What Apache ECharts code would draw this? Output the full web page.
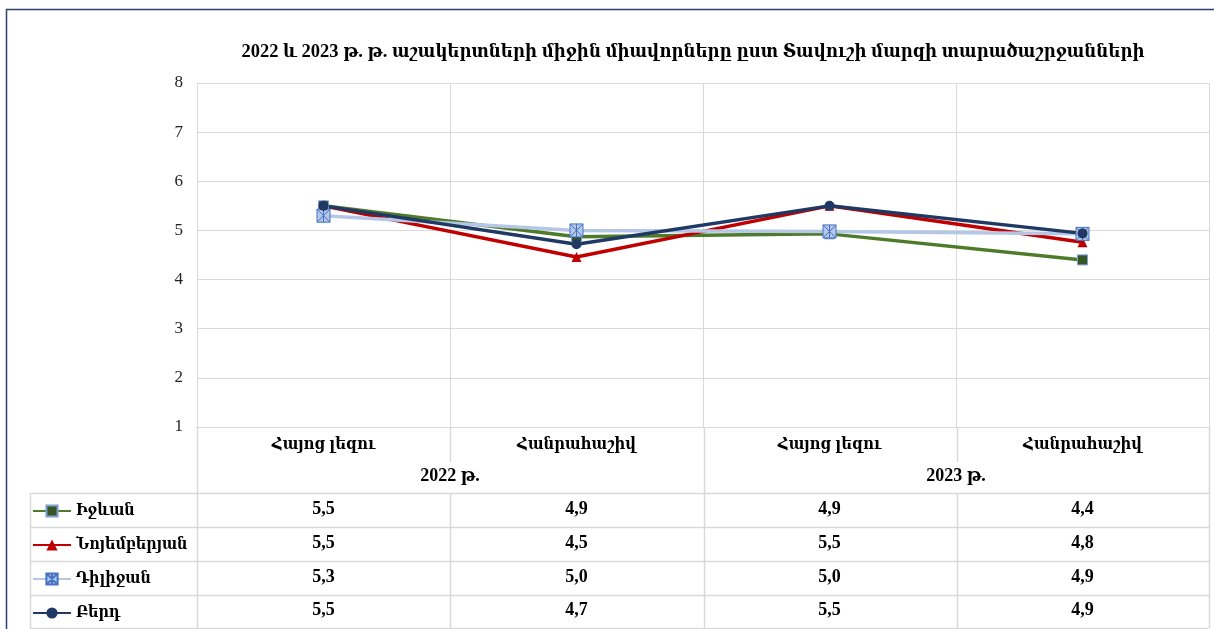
<!DOCTYPE html>
<html>
<head>
<meta charset="utf-8">
<script src="https://cdn.jsdelivr.net/npm/echarts@6/dist/echarts.min.js"></script>
<style>
html,body{margin:0;padding:0;background:#fff;}
#main{width:1214px;height:629px;}
</style>
</head>
<body>
<div id="main"></div>
<script>
// տվյալներ
var subjects = ['Հայոց լեզու', 'Հանրահաշիվ', 'Հայոց լեզու', 'Հանրահաշիվ'];
var years = ['2022 թ.', '2023 թ.'];
var names = ['Իջևան', 'Նոյեմբերյան', 'Դիլիջան', 'Բերդ'];
var ijevan = [5.5, 4.87, 4.93, 4.4];
var noyemberyan = [5.5, 4.46, 5.5, 4.76];
var dilijan = [5.3, 5.0, 4.98, 4.93];
var berd = [5.5, 4.72, 5.5, 4.94];
var yTicks = [1, 2, 3, 4, 5, 6, 7, 8];

(function(){
    var myChart = echarts.init(document.getElementById('main'));
    var font = "'Liberation Serif', 'DejaVu Serif Condensed', 'DejaVu Serif', serif";
    var gridC = '#d9d9d9';
    var L = 197, R = 1209, T = 83, B = 427;
    var rowsY = [493, 527, 561, 595, 628];
    var allData = [ijevan, noyemberyan, dilijan, berd];

    function fmt(v){ return v.toFixed(1).replace('.', ','); }

    // աղյուսակի տողերի առանցքներ
    var xAxes = [{
        type: 'category', data: subjects, gridIndex: 0, position: 'bottom',
        axisLine: {lineStyle: {color: gridC}},
        axisTick: {show: false},
        splitLine: {show: true, lineStyle: {color: gridC}},
        axisLabel: {margin: 9, fontFamily: font, fontSize: 16.5, fontWeight: 'bold', color: '#000'}
    }, {
        type: 'category', data: years, gridIndex: 0, position: 'bottom',
        axisLine: {show: false}, axisTick: {show: false}, splitLine: {show: false},
        axisLabel: {margin: 40, fontFamily: font, fontSize: 18, fontWeight: 'bold', color: '#000'}
    }];
    var margins = [73, 107, 141, 174];
    allData.forEach(function(d, i){
        xAxes.push({
            type: 'category', data: d.map(fmt), gridIndex: 0, position: 'bottom',
            axisLine: {show: false}, axisTick: {show: false}, splitLine: {show: false},
            axisLabel: {margin: margins[i], fontFamily: font, fontSize: 18, fontWeight: 'bold', color: '#000'}
        });
    });

    // գծեր
    var lines = [];
    rowsY.forEach(function(y){
        lines.push({type: 'line', shape: {x1: 30, y1: y + 0.5, x2: R, y2: y + 0.5}, style: {stroke: gridC, lineWidth: 1.5}, silent: true});
    });
    [[30, 493, 628], [L, B, 628], [450, B, 462], [450, 493, 628], [704, B, 628],
     [957, B, 462], [957, 493, 628], [R, B, 628]].forEach(function(v){
        lines.push({type: 'line', shape: {x1: v[0] + 0.5, y1: v[1], x2: v[0] + 0.5, y2: v[2]}, style: {stroke: gridC, lineWidth: 1.5}, silent: true});
    });
    lines.push({type: 'rect', shape: {x: 6.5, y: 9.5, width: 1300, height: 700}, style: {fill: 'none', stroke: '#2f3f6f', lineWidth: 1.5}, silent: true});

    var colors = ['#4e7b2a', '#c00000', '#b4c7e7', '#1f3864'];
    var symbols = ['rect', 'triangle', 'path://M0,0H10V10H0Z M0,0L10,10 M10,0L0,10 M5,0V10', 'circle'];
    var series = names.map(function(n, i){
        return {
            name: n, type: 'line', data: allData[i], xAxisIndex: 0,
            symbol: symbols[i], symbolSize: i === 2 ? 13 : 10,
            lineStyle: {width: 3.5, color: colors[i]},
            itemStyle: i === 0 ? {color: '#375623', borderColor: '#7fa0d8', borderWidth: 1}
                : i === 2 ? {color: '#b4c7e7', borderColor: '#4472c4', borderWidth: 1}
                : {color: colors[i]},
            color: colors[i]
        };
    });

    option = {
        animation: false,
        title: {
            text: '2022 և 2023 թ. թ. աշակերտների միջին միավորները ըստ Տավուշի մարզի տարածաշրջանների',
            left: 688, top: 38, textAlign: 'center',
            textStyle: {fontFamily: font, fontSize: 18.5, fontWeight: 'bold', color: '#000'}
        },
        legend: {
            orient: 'vertical', left: 32, top: 503, padding: 0, height: 126,
            itemWidth: 38, itemHeight: 14, itemGap: 18,
            textStyle: {fontFamily: font, fontSize: 16, fontWeight: 'bold', color: '#000', lineHeight: 14}
        },
        grid: {left: L, right: 1214 - R, top: T, bottom: 629 - B, outerBoundsMode: 'none', containLabel: false},
        xAxis: xAxes,
        yAxis: {
            type: 'value', min: yTicks[0], max: yTicks[yTicks.length - 1], interval: 1,
            axisLine: {show: true, lineStyle: {color: gridC}},
            axisTick: {show: false},
            splitLine: {lineStyle: {color: gridC}},
            axisLabel: {margin: 14, fontFamily: font, fontSize: 17, color: '#222'}
        },
        graphic: lines,
        series: series
    };
    myChart.setOption(option);
})();
</script>
</body>
</html>
